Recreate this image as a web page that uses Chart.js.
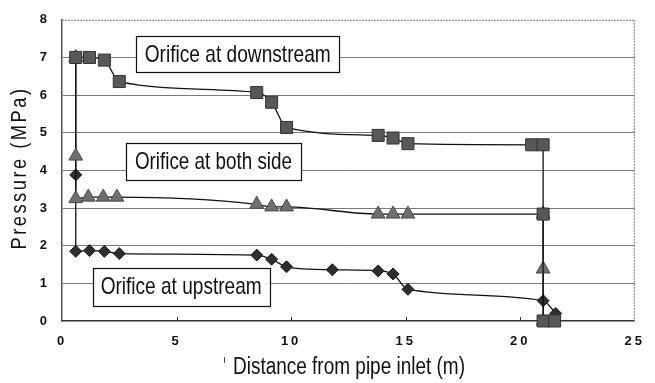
<!DOCTYPE html>
<html>
<head>
<meta charset="utf-8">
<script src="https://cdn.jsdelivr.net/npm/chart.js@4.4.0/dist/chart.umd.min.js"></script>
<style>
  html, body { margin: 0; padding: 0; background: #fff; }
  #wrap { width: 655px; height: 383px; }
</style>
</head>
<body>
<div id="wrap"><canvas id="chart"></canvas></div>
<script>
/* ── Data ── */
var xTicks = [0, 5, 10, 15, 20, 25];
var yTicks = [0, 1, 2, 3, 4, 5, 6, 7, 8];

var downX = [0.6, 1.2, 1.85, 2.5, 8.5, 9.15, 9.8, 13.8, 14.45, 15.1, 20.5, 21.0, 21.0, 21.0, 21.5];
var downY = [7.0, 7.0, 6.93, 6.36, 6.07, 5.81, 5.14, 4.93, 4.86, 4.71, 4.68, 4.68, 2.84, 0.0, 0.0];

var bothX = [0.6, 0.6, 0.6, 1.15, 1.8, 2.4, 8.5, 9.15, 9.8, 13.8, 14.45, 15.1, 21.0, 21.0, 21.0];
var bothY = [7.0, 4.38, 3.25, 3.29, 3.29, 3.29, 3.10, 3.03, 3.03, 2.84, 2.84, 2.84, 2.84, 1.38, 0.0];

var upX = [0.6, 0.6, 0.6, 1.2, 1.85, 2.5, 8.5, 9.15, 9.8, 11.8, 13.8, 14.45, 15.1, 21.0, 21.55];
var upY = [7.0, 3.88, 1.85, 1.87, 1.85, 1.79, 1.75, 1.64, 1.44, 1.36, 1.33, 1.25, 0.84, 0.54, 0.2];

var labelTexts = ['Orifice at downstream', 'Orifice at both side', 'Orifice at upstream'];
var xTitle = 'Distance from pipe inlet (m)';
var yTitle = 'Pressure (MPa)';

function pts(xs, ys) {
  return xs.map(function(x, i) { return { x: x, y: ys[i] }; });
}

/* draw text squeezed/stretched to a given width */
function fitText(ctx, text, cx, cy, w, font, spacing, rot) {
  ctx.save();
  ctx.font = font;
  ctx.letterSpacing = spacing || '0px';
  var m = ctx.measureText(text).width;
  ctx.translate(cx, cy);
  if (rot) ctx.rotate(rot);
  ctx.scale(w / m, 1);
  ctx.textAlign = 'center';
  ctx.textBaseline = 'middle';
  ctx.fillStyle = '#111';
  ctx.fillText(text, 0, 0);
  ctx.restore();
}

/* ── Extras: frame, inner ticks, label boxes, axis titles ── */
var boxes = [
  { cx: 7.67, cy: 7.09, w: 203, h: 36, tw: 186 },
  { cx: 6.61, cy: 4.24, w: 175, h: 37, tw: 157 },
  { cx: 5.20, cy: 0.91, w: 177, h: 38, tw: 161 }
];

var extras = {
  id: 'extras',
  beforeDraw: function(chart) {
    chart.ctx.letterSpacing = '3px';
  },
  beforeDatasetsDraw: function(chart) {
    var ctx = chart.ctx, a = chart.chartArea, xs = chart.scales.x;
    ctx.letterSpacing = '0px';
    ctx.save();
    // dotted top + right frame
    ctx.strokeStyle = '#777';
    ctx.lineWidth = 1;
    ctx.setLineDash([2, 1]);
    ctx.beginPath();
    ctx.moveTo(a.left, a.top + 0.5); ctx.lineTo(a.right, a.top + 0.5);
    ctx.moveTo(a.right - 0.5, a.top); ctx.lineTo(a.right - 0.5, a.bottom);
    ctx.stroke();
    ctx.setLineDash([]);
    // inner tick marks on x axis
    ctx.strokeStyle = '#333';
    ctx.beginPath();
    [5, 10, 15, 20].forEach(function(v) {
      var px = Math.round(xs.getPixelForValue(v)) + 0.5;
      ctx.moveTo(px, a.bottom); ctx.lineTo(px, a.bottom - 4);
    });
    ctx.stroke();
    ctx.restore();
  },
  afterDatasetsDraw: function(chart) {
    var ctx = chart.ctx, xs = chart.scales.x, ys = chart.scales.y;
    boxes.forEach(function(b, i) {
      var cx = xs.getPixelForValue(b.cx), cy = ys.getPixelForValue(b.cy);
      var l = Math.round(cx - b.w / 2) + 0.5, t = Math.round(cy - b.h / 2) + 0.5;
      ctx.save();
      ctx.fillStyle = '#fff';
      ctx.fillRect(l, t, b.w, b.h);
      ctx.strokeStyle = '#111';
      ctx.lineWidth = 1.2;
      ctx.strokeRect(l, t, b.w, b.h);
      ctx.restore();
      fitText(ctx, labelTexts[i], cx, cy + 1, b.tw, '24px "Liberation Sans", Arial, sans-serif');
    });
    // axis titles
    fitText(ctx, xTitle, 349, 368, 232, '23px "Liberation Sans", Arial, sans-serif');
    fitText(ctx, yTitle, 20, 168, 163, '22px "Liberation Sans", Arial, sans-serif', '3px', -Math.PI / 2);
    // stray mark left of the x title
    ctx.save();
    ctx.strokeStyle = '#444';
    ctx.lineWidth = 1;
    ctx.beginPath();
    ctx.moveTo(224.5, 357); ctx.lineTo(224.5, 363);
    ctx.stroke();
    ctx.restore();
  }
};

var lineStyle = { borderColor: '#111', borderWidth: 1.3, cubicInterpolationMode: 'monotone', showLine: true, clip: false };

new Chart(document.getElementById('chart'), {
  type: 'scatter',
  data: {
    datasets: [
      Object.assign({
        label: labelTexts[0],
        data: pts(downX, downY),
        pointStyle: 'rect',
        pointRadius: 8.5,
        pointBackgroundColor: '#585858',
        pointBorderColor: '#333',
        pointBorderWidth: 1
      }, lineStyle),
      Object.assign({
        label: labelTexts[1],
        data: pts(bothX, bothY),
        pointStyle: 'triangle',
        pointRadius: 8,
        pointBackgroundColor: '#6f6f6f',
        pointBorderColor: '#4a4a4a',
        pointBorderWidth: 1
      }, lineStyle),
      Object.assign({
        label: labelTexts[2],
        data: pts(upX, upY),
        pointStyle: 'rectRot',
        pointRadius: 6,
        pointBackgroundColor: '#2e2e2e',
        pointBorderColor: '#1a1a1a',
        pointBorderWidth: 1
      }, lineStyle)
    ]
  },
  plugins: [extras],
  options: {
    responsive: true,
    maintainAspectRatio: false,
    animation: false,
    layout: { padding: { left: 0, right: 17, top: 15, bottom: 0 } },
    plugins: {
      legend: { display: false },
      tooltip: { enabled: false }
    },
    scales: {
      x: {
        type: 'linear',
        min: 0, max: 25,
        afterBuildTicks: function(s) { s.ticks = xTicks.map(function(v) { return { value: v }; }); },
        afterFit: function(s) { s.height = 62; },
        grid: { display: false, drawTicks: false },
        border: { display: true, color: '#333', width: 1.5 },
        ticks: {
          padding: 13,
          color: '#111',
          font: { family: '"Liberation Sans", Arial, sans-serif', size: 13, weight: 'bold' },
          maxRotation: 0
        }
      },
      y: {
        type: 'linear',
        min: 0, max: 8,
        afterBuildTicks: function(s) { s.ticks = yTicks.map(function(v) { return { value: v }; }); },
        afterFit: function(s) { s.width = 62; },
        grid: {
          drawTicks: false,
          color: function(c) { return (c.tick.value === 0 || c.tick.value === 8) ? 'rgba(0,0,0,0)' : '#7a7a7a'; },
          lineWidth: 1
        },
        border: { display: true, color: '#555', width: 1.5 },
        ticks: {
          padding: 12,
          color: '#111',
          font: { family: '"Liberation Sans", Arial, sans-serif', size: 13, weight: 'bold' }
        }
      }
    }
  }
});
</script>
</body>
</html>
